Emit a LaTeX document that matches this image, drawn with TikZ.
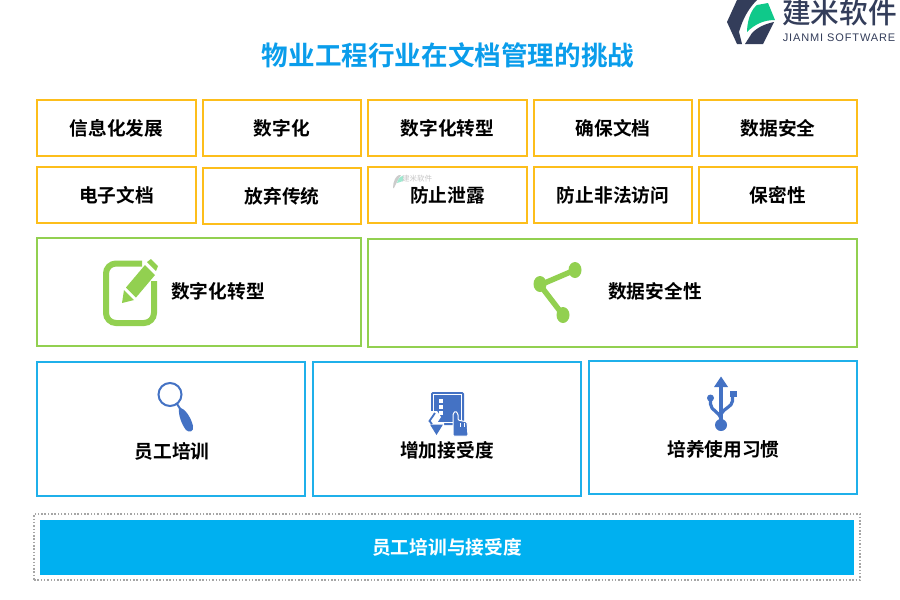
\documentclass[tikz,border=0pt]{standalone}
\usepackage{fontspec}
\setmainfont{Noto Sans CJK SC}[BoldFont={* Bold}]
\newfontfamily\cjkbold{Noto Sans CJK SC Bold}
\newfontfamily\cjkmed{Noto Sans CJK SC Medium}
\newfontfamily\latinlogo{Liberation Sans}
\definecolor{yel}{HTML}{FDBE1B}
\definecolor{grn}{HTML}{92D050}
\definecolor{blu}{HTML}{1FB0EA}
\definecolor{fillblu}{HTML}{00B0F0}
\definecolor{ttl}{HTML}{0A9DEB}
\definecolor{icn}{HTML}{4472C4}
\definecolor{logod}{HTML}{333D5A}
\definecolor{logog}{HTML}{0FC98A}
\tikzset{
 x=1pt,y=-1pt,
 base/.style={inner sep=0pt,outer sep=0pt,anchor=center},
 ybox/.style={base,draw=yel,line width=1.9pt,minimum width=158pt,minimum height=56pt,font=\cjkbold\fontsize{18.7pt}{20pt}\selectfont,text=black},
 gbox/.style={base,draw=grn,line width=1.9pt,minimum height=108pt},
 bbox/.style={base,draw=blu,line width=1.9pt,minimum width=268pt},
 lab/.style={base,font=\cjkbold\fontsize{18.7pt}{20pt}\selectfont,text=black},
}
\begin{document}
\begin{tikzpicture}
\useasboundingbox (0,0) rectangle (900,600);
\fill[white] (0,0) rectangle (900,600);
% logo
\fill[logod] (737,0) -- (757,0) .. controls (749,8) and (743,18) .. (739,32) -- (742,44) -- (737,44) -- (727,22) -- cycle;
\fill[logod] (745,44) -- (752,33) .. controls (758,27) and (765,24) .. (774,22) -- (763,44) -- cycle;
\fill[logog] (747,30) .. controls (748,17) and (752,9) .. (757,5) -- (768,3) -- (775,20) .. controls (764,20) and (755,24) .. (747,32) -- cycle;
\node[base] (logotext) at (839.5,13) {\cjkmed\fontsize{28.7pt}{30pt}\selectfont\textcolor{logod}{建米软件}};
\node[base] (logosub) at (839,38) {\latinlogo\fontsize{11pt}{12pt}\selectfont\addfontfeatures{LetterSpace=8}\textcolor{logod}{JIANMI SOFTWARE}};
% title
\node[base] (title) at (448,55) {\cjkbold\fontsize{26.6pt}{28pt}\selectfont\textcolor{ttl}{物业工程行业在文档管理的挑战}};
% yellow
\node[ybox,minimum width=159pt] (a1) at (116.5,128) {\raisebox{1.6pt}{信息化发展}};
\node[ybox] (a2) at (282,128) {\raisebox{1.6pt}{数字化}};
\node[ybox,minimum width=159pt] (a3) at (447.5,128) {\raisebox{1.6pt}{数字化转型}};
\node[ybox] (a4) at (613,128) {\raisebox{1.6pt}{确保文档}};
\node[ybox] (a5) at (778,128) {\raisebox{1.6pt}{数据安全}};
\node[ybox,minimum width=159pt] (b1) at (116.5,195) {电子文档};
\node[ybox] (b2) at (282,196) {\raisebox{1.6pt}{放弃传统}};
\node[ybox,minimum width=159pt] (b3) at (447.5,195) {防止泄露};
\node[ybox] (b4) at (613,195) {防止非法访问};
\node[ybox] (b5) at (778,195) {保密性};
% watermark
\fill[gray!40] (393,188) .. controls (393,181) and (396,176) .. (399,175) -- (401,175) .. controls (398,179) and (396,184) .. (394,188) -- cycle;
\fill[logog!40] (397,183) .. controls (398,179) and (400,176) .. (403,176) -- (403,181) -- cycle;
\node[base] (wm) at (417,179) {\fontsize{7.5pt}{8pt}\selectfont\textcolor{gray!45}{建米软件}};
% green
\node[gbox,minimum width=324pt] (g1) at (199,292) {};
\node[gbox,minimum width=489pt] (g2) at (612.5,293) {};
\node[lab] (g1t) at (218,291) {数字化转型};
\node[lab] (g2t) at (655,291) {数据安全性};
% note icon
\draw[grn,line width=6pt,rounded corners=10pt] (142,263.5) -- (106,263.5) -- (106,323) -- (154,323) -- (154,281);
\fill[grn] (122,303) -- (124,290) -- (134,300) -- cycle;
\fill[grn] (126,287.5) -- (145,265) -- (155,275) -- (136,297.5) -- cycle;
\fill[grn] (147,262) -- (151,259) -- (158,266) -- (156,271) -- cycle;
% share icon
\draw[grn,line width=5.5pt] (575,270) -- (540,285) -- (563,315);
\fill[grn] (575,270) ellipse[x radius=6.5pt,y radius=8pt];
\fill[grn] (540,284) ellipse[x radius=6.5pt,y radius=8pt];
\fill[grn] (563,315) ellipse[x radius=6.5pt,y radius=8pt];
% blue
\node[bbox,minimum height=134pt] (c1) at (171,429) {};
\node[bbox,minimum height=134pt] (c2) at (447,429) {};
\node[bbox,minimum height=133pt] (c3) at (723,427.5) {};
\node[lab] (c1t) at (172,451) {员工培训};
\node[lab] (c2t) at (447,450.5) {增加接受度};
\node[lab] (c3t) at (723.5,449) {培养使用习惯};
% magnifier
\draw[icn,line width=2pt] (170,394.5) circle[radius=11.5pt];
\draw[icn,line width=2pt] (177,404) -- (181,410);
\fill[icn] (179,408) .. controls (184,407) and (191,417) .. (193,426) .. controls (194,432) and (189,433) .. (186,430) .. controls (182,425) and (178,415) .. (179,408) -- cycle;
% tablet
\fill[icn,rounded corners=1.5pt] (431,392) rectangle (464,425);
\draw[white,line width=.7pt] (433.5,394.5) rectangle (461.5,422);
\fill[white] (439,399) rectangle (443,403);
\fill[white] (439,405) rectangle (443,409);
\fill[white] (439,411) rectangle (443,415);
\fill[white] (431,411) -- (437,411) -- (441,417) -- (437,423) -- (444,423) -- (444,427) -- (437,437) -- (427,425) -- cycle;
\draw[icn,line width=1.8pt] (435,413) -- (429.5,421) -- (432,424);
\fill[icn] (430,424.5) -- (443,424.5) -- (436.5,435) -- cycle;
\draw[white,line width=1pt,fill=icn,rounded corners=1pt] (453,428) -- (453,414) -- (455.5,411) -- (458,414) -- (458,420) -- (467,422) -- (468,436) -- (453,436) -- cycle;
\draw[white,line width=.7pt] (460.5,423) -- (460.5,427) (464,423) -- (464,427);
% usb
\draw[icn,line width=3.2pt] (721,384) -- (721,423);
\fill[icn] (721,376.5) -- (728,387) -- (714,387) -- cycle;
\fill[icn] (721,425) circle[radius=6pt];
\draw[icn,line width=3.2pt] (710.5,398) -- (710.5,404) .. controls (711,411) and (719,411) .. (721,419);
\draw[icn,line width=3.2pt] (732.5,394) -- (732.5,401) .. controls (732,407) and (724,408) .. (721,414);
\fill[icn] (710.5,398) circle[radius=3.5pt];
\fill[icn] (729.5,390.5) rectangle (736.5,397);
% bottom
\node[base,draw=gray!70,line width=1.2pt,dash pattern=on 1.5pt off 1.8pt,minimum width=826pt,minimum height=66pt] (frame) at (447,547) {};
\node[base,fill=fillblu,minimum width=814pt,minimum height=55pt] (bar) at (447,547.5) {\cjkbold\fontsize{18.7pt}{20pt}\selectfont\textcolor{white}{员工培训与接受度}};
\end{tikzpicture}
\end{document}
